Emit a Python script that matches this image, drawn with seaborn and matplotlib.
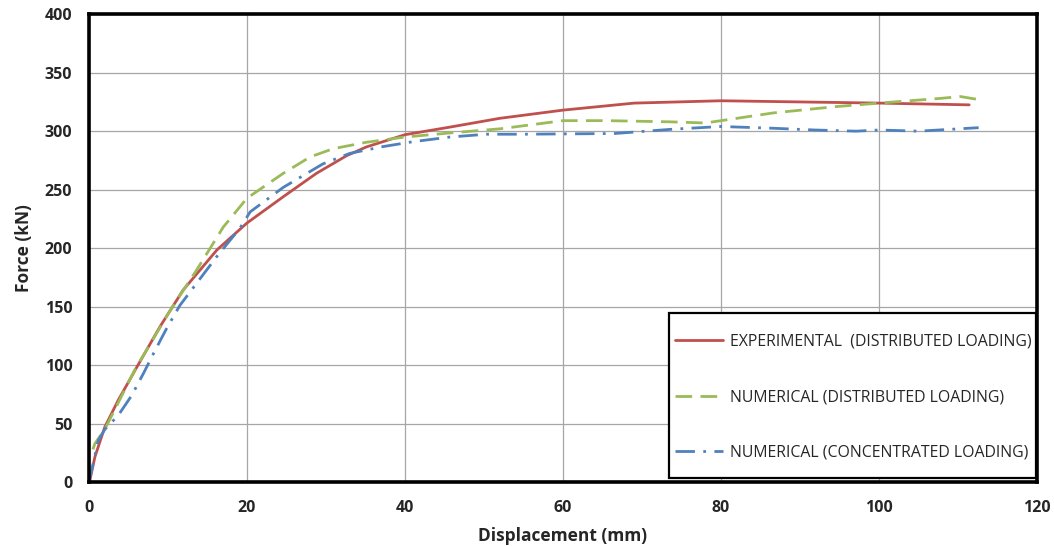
import matplotlib
matplotlib.use("Agg")
import matplotlib.pyplot as plt
from matplotlib.patches import Rectangle
import seaborn as sns
import pandas as pd

# Experimental (distributed loading)
exp_x = [0, 0.1, 0.76, 2.0, 3.7, 6.2, 9.0, 11.9, 16.2, 20, 24.6, 28.8, 32.6, 35.1, 40, 45.7,
         52, 60, 69, 80, 90, 100, 111.4]
exp_y = [0, 1, 21.7, 47, 70, 100, 133, 164, 198.5, 221.5, 244, 264, 279, 286.5, 297, 303.5,
         311, 318, 324, 326, 325, 324, 322.5]

# Numerical (distributed loading)
numd_x = [0.5, 0.76, 2.0, 5.8, 10.3, 13.6, 17, 20, 24.6, 28, 30.9, 35.1, 40, 45.7, 52, 60,
          65.5, 73.5, 78, 80, 86.6, 94.5, 100, 107.7, 110.3, 112.6]
numd_y = [28, 33, 45, 96, 147, 181, 218, 242.7, 264, 278, 285, 290.5, 295, 298.5, 302, 309,
          309, 308, 307, 309, 315.6, 321, 324, 328, 329.6, 327]

# Numerical (concentrated loading)
numc_x = [0, 1.2, 2.0, 3.7, 5.4, 6.9, 8.4, 9.8, 11.5, 16.2, 19.1, 20.4, 24.6, 29.6, 33, 37.2,
          41, 45.7, 50.3, 55, 66.5, 73.9, 80, 86.6, 91.9, 97.1, 100, 105, 112.6]
numc_y = [0, 36, 45, 57, 74, 93, 113, 131, 151, 193, 217, 231, 252, 272, 281, 286.8,
          291, 295, 297.4, 297.4, 298, 301.7, 304, 302.5, 301, 300, 301, 300, 303]

labels = ["EXPERIMENTAL  (DISTRIBUTED LOADING)",
          "NUMERICAL (DISTRIBUTED LOADING)",
          "NUMERICAL (CONCENTRATED LOADING)"]
colors = ["#C0504D", "#9BBB59", "#4F81BD"]
x_ticks = [0, 20, 40, 60, 80, 100, 120]
y_ticks = [0, 50, 100, 150, 200, 250, 300, 350, 400]

sns.set_theme(style="white")
plt.rcParams['font.family'] = ['Open Sans', 'DejaVu Sans']

fig = plt.figure(figsize=(10.54, 5.46), dpi=100)
ax = fig.add_axes([0.0844, 0.117, 0.8996, 0.857])

series = [(exp_x, exp_y), (numd_x, numd_y), (numc_x, numc_y)]
styles = [None, (0, (6, 3)), (0, (7, 3, 1, 3))]
for (xs, ys), lab, col, ls in zip(series, labels, colors, styles):
    df = pd.DataFrame({"x": xs, "y": ys})
    sns.lineplot(data=df, x="x", y="y", ax=ax, color=col, sort=False,
                 label=lab, linewidth=2.0, estimator=None)
    if ls is not None:
        ax.lines[-1].set_linestyle(ls)

ax.set_xlim(0, 120)
ax.set_ylim(0, 400)
ax.set_xticks(x_ticks)
ax.set_yticks(y_ticks)
ax.set_xticklabels([str(v) for v in x_ticks], fontweight="bold", fontsize=11.5, color="#262626")
ax.set_yticklabels([str(v) for v in y_ticks], fontweight="bold", fontsize=11.5, color="#262626")
ax.grid(True, color="#a6a6a6", linewidth=0.9)
ax.tick_params(axis="both", direction="out", length=4, width=2.5, color="black")
ax.tick_params(axis="y", pad=8)
ax.tick_params(axis="x", pad=9)
for s in ax.spines.values():
    s.set_color("black")
    s.set_linewidth(2.6)
ax.set_xlabel("Displacement (mm)", fontweight="bold", fontsize=12.5, labelpad=8, color="#262626")
ax.set_ylabel("Force (kN)", fontweight="bold", fontsize=12.5, labelpad=8, color="#262626")

# legend frame
ax.add_patch(Rectangle((0.612, 0.0085), 0.387, 0.3526, transform=ax.transAxes,
                       facecolor="white", edgecolor="black", linewidth=1.6, zorder=4))
leg = ax.legend(loc="center left", bbox_to_anchor=(0.6115, 0.1816), frameon=False,
                fontsize=11.4, labelspacing=2.48, handlelength=3.0, handletextpad=0.45,
                borderpad=0.4, borderaxespad=0)
leg.set_zorder(5)

fig.savefig("out.png", dpi=100)
